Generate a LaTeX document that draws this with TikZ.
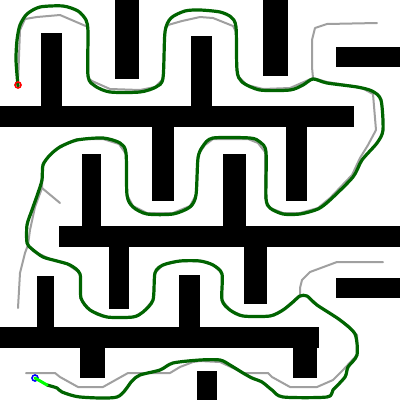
\documentclass[tikz,border=0pt]{standalone}
\begin{document}
\begin{tikzpicture}[x=1pt,y=-1pt,
  wall/.style={fill=black,draw=none},
  rawpath/.style={draw={rgb,255:red,160;green,160;blue,160},line width=2pt,line join=round,line cap=round},
  smoothpath/.style={draw={rgb,255:red,0;green,100;blue,0},line width=3.2pt,line join=round,line cap=round},
  marker/.style={circle,inner sep=0pt,minimum size=6pt,line width=1.6pt}]
\useasboundingbox (0,0) rectangle (400,400);
\fill[white] (0,0) rectangle (400,400);
% obstacles
\foreach \a/\b/\c/\d in {41/33/62/106, 115/0/139/79, 0/106/354/127, 191/36/212/106,
  263/0/288/76, 336/47/400/67, 152/127/174/201, 286/127/307/201, 82/154/101/226,
  223/154/246/226, 59/226/400/247, 109/247/129/309, 244/247/267/304, 336/278/400/298,
  37/276/54/327, 179/275/200/327, 0/327/319/348, 80/348/105/378, 293/348/317/378,
  197/371/217/400}
  \path[wall] (\a,\b) rectangle (\c,\d);
% raw path
\draw[rawpath] (18,83) -- (20,30) -- (25,19) -- (37,17) -- (60,15) -- (88,27) -- (88,78) -- (92,81) -- (110,89) -- (140,90) -- (155,87) -- (163,79) -- (165,30) -- (168,25) -- (182,21) -- (200,17) -- (213,18) -- (233,26) -- (236,32) -- (237,75) -- (247,85) -- (263,89) -- (290,88) -- (313,78) -- (327,82) -- (360,87) -- (373,94) -- (376,130) -- (368,145) -- (360,158) -- (352,175) -- (330,198) -- (318,208) -- (300,213) -- (283,213) -- (270,208) -- (265,198) -- (265,152) -- (258,143) -- (248,139) -- (213,139) -- (205,145) -- (198,155) -- (196,195) -- (190,206) -- (173,213) -- (147,213) -- (133,206) -- (127,195) -- (126,154) -- (119,144) -- (103,139) -- (77,139) -- (60,146) -- (48,157) -- (43,163) -- (42,170) -- (42,188) -- (35,207) -- (30,230) -- (28,245) -- (33,251) -- (50,259) -- (67,264) -- (80,273) -- (80,298) -- (90,310) -- (107,317) -- (133,317) -- (143,312) -- (153,300) -- (155,273) -- (163,265) -- (180,261) -- (200,261) -- (213,265) -- (222,273) -- (222,300) -- (230,310) -- (243,316) -- (270,316) -- (283,310) -- (300,295) -- (307,296) -- (317,305) -- (340,320) -- (357,335) -- (357,355) -- (343,370) -- (333,380) -- (317,387) -- (290,387) -- (272,377) -- (268,373) -- (243,373) -- (233,368) -- (220,362) -- (200,361) -- (193,362) -- (180,367) -- (170,373) -- (128,373) -- (103,387) -- (78,387) -- (60,377) -- (55,373) -- (26,373);
\draw[rawpath] (313,78) -- (312,67) -- (312,40) -- (315,28) -- (327,24) -- (377,23);
\draw[rawpath] (42,188) -- (60,203);
\draw[rawpath] (28,245) -- (25,253) -- (20,273) -- (18,308);
\draw[rawpath] (300,295) -- (300,288) -- (302,280) -- (310,272) -- (337,262) -- (383,262);
% smoothed path
\draw[smoothpath] plot[smooth,tension=0.45] coordinates {(18,86) (16,60) (17,40) (20,25) (27,14) (40,7) (63,6) (78,11) (86,20) (88,32) (88,76) (95,86) (110,92) (140,92) (156,87) (163,78) (165,32) (171,18) (185,11) (200,10) (220,12) (231,17) (236,27) (237,70) (242,82) (260,90) (290,90) (303,85) (313,79) (327,83) (357,87) (372,91) (381,100) (383,130) (377,143) (362,160) (353,177) (330,200) (318,209) (300,214) (283,214) (270,208) (266,198) (266,152) (260,142) (250,138) (213,138) (203,146) (198,158) (196,195) (190,207) (173,214) (147,214) (133,207) (127,195) (126,153) (120,143) (103,138) (77,140) (60,147) (50,155) (43,165) (42,180) (38,193) (32,210) (27,225) (27,243) (32,249) (43,257) (57,261) (70,265) (80,274) (81,298) (90,310) (107,317) (133,317) (143,312) (153,300) (155,273) (163,265) (180,261) (200,261) (213,265) (222,274) (222,300) (230,310) (243,316) (270,316) (283,310) (293,302) (300,296) (307,296) (317,305) (340,320) (355,334) (357,355) (348,367) (345,377) (333,390) (327,397) (283,397) (272,390) (262,382) (252,378) (243,373) (230,365) (220,360) (200,360) (173,363) (160,370) (140,375) (132,381) (117,397) (80,397) (62,392) (57,388) (47,385)};
\coordinate (seg) at (47,385);
\node[marker,draw=blue] (goal) at (35,378) {};
\draw[draw={rgb,255:red,0;green,255;blue,0},line width=3pt,line cap=round] (seg) -- (goal.center);
\node[marker,draw=red] (start) at (18,85) {};
\end{tikzpicture}
\end{document}
